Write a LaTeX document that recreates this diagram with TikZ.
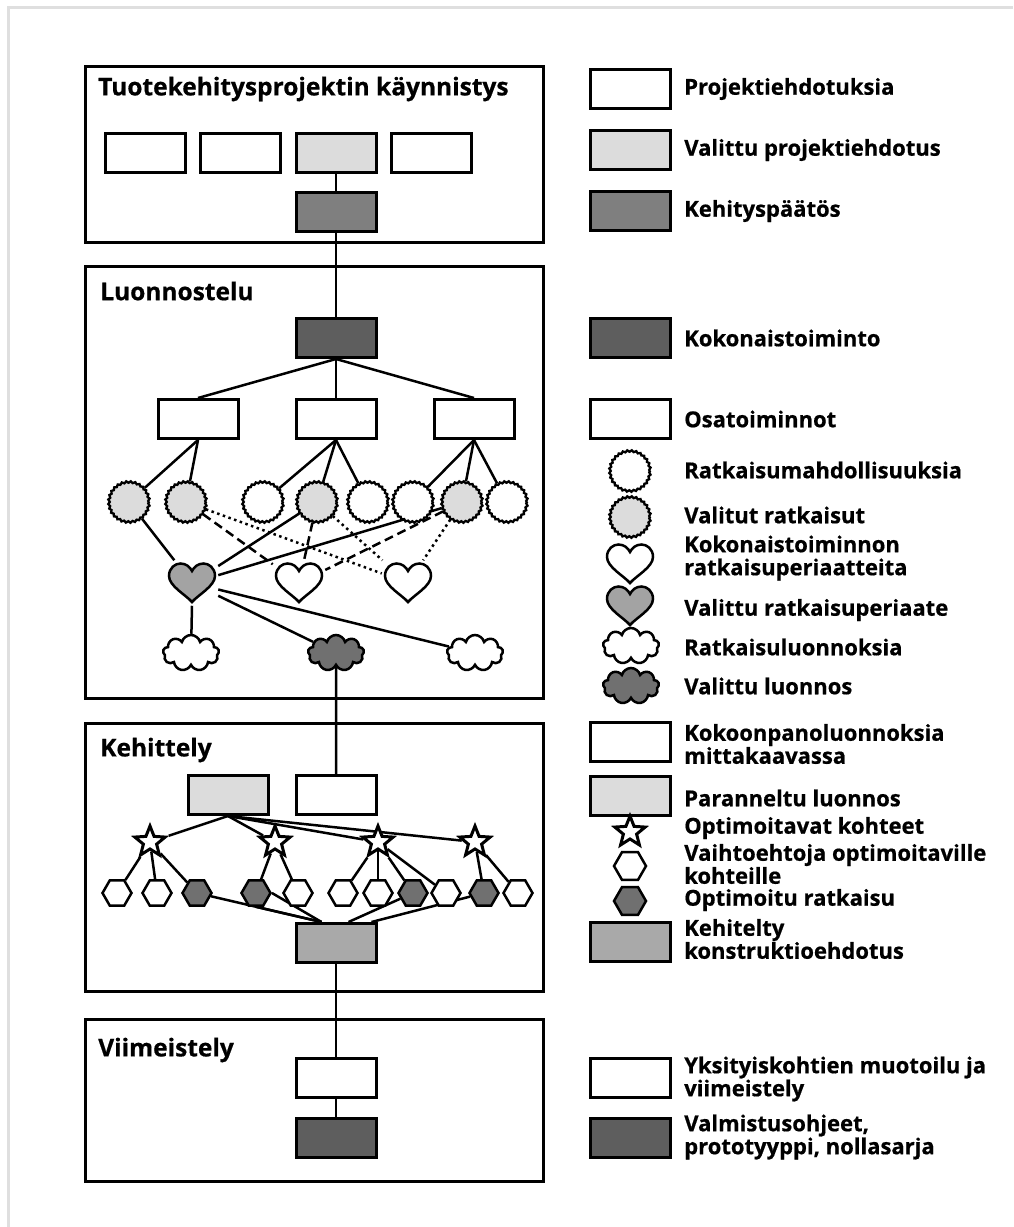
\documentclass[tikz,border=0pt]{standalone}
\usepackage{fontspec}
\setmainfont{Open Sans}[BoldFeatures={FakeBold=0.6}]
\usetikzlibrary{positioning,shapes.geometric,shapes.symbols,decorations.pathmorphing,backgrounds}

\definecolor{paleg}{HTML}{DCDCDC}
\definecolor{midg}{HTML}{A9A9A9}
\definecolor{heartg}{HTML}{A3A3A3}
\definecolor{stoneg}{HTML}{7F7F7F}
\definecolor{darkg}{HTML}{5E5E5E}
\definecolor{shadeg}{HTML}{707070}

\newcommand{\heartpath}{(0pt,-19pt) .. controls (-6pt,-12pt) and (-23pt,-3pt) .. (-23pt,7pt)
  .. controls (-23pt,15pt) and (-17pt,19.5pt) .. (-11.5pt,19.5pt)
  .. controls (-6pt,19.5pt) and (-2pt,16pt) .. (0pt,12pt)
  .. controls (2pt,16pt) and (6pt,19.5pt) .. (11.5pt,19.5pt)
  .. controls (17pt,19.5pt) and (23pt,15pt) .. (23pt,7pt)
  .. controls (23pt,-3pt) and (6pt,-12pt) .. (0pt,-19pt) -- cycle}

\begin{document}
\begin{tikzpicture}[
    x=1pt, y=-1pt,
    font=\bfseries\fontsize{22}{23}\selectfont,
    line width=2.5pt,
    phase/.style={rectangle, draw, line width=3pt, anchor=north west, minimum width=458pt, inner sep=0pt},
    phasetitle/.style={anchor=west, inner sep=0pt, font=\bfseries\fontsize{24.5}{26}\selectfont},
    box/.style={rectangle, draw, line width=3pt, fill=#1, minimum width=80pt, minimum height=39pt, inner sep=0pt},
    box/.default=white,
    sol/.style={circle, draw, line width=2.3pt, fill=#1, minimum size=40pt, inner sep=0pt, decorate, decoration={zigzag, segment length=4.4pt, amplitude=0.8pt}},
    sol/.default=white,
    heart/.style={rectangle, minimum width=50pt, minimum height=43pt, inner sep=0pt,
        path picture={\draw[line width=2.5pt, fill=#1, shift={(path picture bounding box.center)}] \heartpath;}},
    heart/.default=white,
    sketch/.style={cloud, cloud puffs=9, aspect=1.6, draw, line width=2.5pt, fill=#1, minimum width=56pt, minimum height=36pt, inner sep=0pt},
    sketch/.default=white,
    target/.style={star, star points=5, star point ratio=2.3, draw, line width=3pt, fill=white, minimum size=32pt, inner sep=0pt},
    variant/.style={regular polygon, regular polygon sides=6, draw, line width=2.5pt, fill=#1, minimum size=29pt, inner sep=0pt},
    variant/.default=white,
    legendtext/.style={anchor=west, align=left, inner sep=0pt},
    link/.style={draw=black, line width=2.5pt},
    dashlink/.style={dash pattern=on 9pt off 5pt},
    dotlink/.style={dash pattern=on 2.5pt off 3.5pt}
]
    \useasboundingbox (0,0) rectangle (1013,1227);
    \draw[gray!25, line width=3pt] (8,1227) -- (8,7) -- (1013,7);

    % Phases
    \node (ph1) [phase, minimum height=176pt] at (84,65) {};
    \node (ph2) [phase, minimum height=432pt] at (84,265) {};
    \node (ph3) [phase, minimum height=268pt] at (84,722) {};
    \node (ph4) [phase, minimum height=162pt] at (84,1018) {};
    \node (ti1) [phasetitle] at (97,89) {Tuotekehitysprojektin käynnistys};
    \node (ti2) [phasetitle] at (99,291) {Luonnostelu};
    \node (ti3) [phasetitle] at (99,750) {Kehittely};
    \node (ti4) [phasetitle] at (97,1050) {Viimeistely};

    % Start
    \node (p1) [box] at (145,153) {};
    \node (p2) [box] at (240,153) {};
    \node (p3) [box=paleg] at (336,153) {};
    \node (p4) [box] at (431,153) {};
    \node (kp) [box=stoneg] at (336,212) {};

    % Sketching
    \node (koko) [box=darkg] at (336,338) {};
    \node (o1) [box] at (198,419) {};
    \node (o2) [box] at (336,419) {};
    \node (o3) [box] at (474,419) {};

    \node (c1) [sol=paleg] at (129,502) {};
    \node (c2) [sol=paleg] at (186,502) {};
    \node (c3) [sol] at (263,502) {};
    \node (c4) [sol=paleg] at (317,502) {};
    \node (c5) [sol] at (368,502) {};
    \node (c6) [sol] at (413,502) {};
    \node (c7) [sol=paleg] at (462,502) {};
    \node (c8) [sol] at (507,502) {};

    \node (h1) [heart=heartg] at (192,583) {};
    \node (h2) [heart] at (299,583) {};
    \node (h3) [heart] at (408,583) {};

    \node (cl1) [sketch] at (191,653) {};
    \node (cl2) [sketch=shadeg] at (336,653) {};
    \node (cl3) [sketch] at (475,653) {};

    % Development
    \node (r1) [box=paleg] at (228,795) {};
    \node (m1) [box] at (336,795) {};

    \node (s1) [target] at (150,842) {};
    \node (s2) [target] at (275,842) {};
    \node (s3) [target] at (378,842) {};
    \node (s4) [target] at (475,842) {};

    \node (x1) [variant] at (117,893) {};
    \node (x2) [variant] at (157,893) {};
    \node (x3) [variant=shadeg] at (197,893) {};
    \node (x4) [variant=shadeg] at (256,893) {};
    \node (x5) [variant] at (298,893) {};
    \node (x6) [variant] at (343,893) {};
    \node (x7) [variant] at (378,893) {};
    \node (x8) [variant=shadeg] at (413,893) {};
    \node (x9) [variant] at (446,893) {};
    \node (x10) [variant=shadeg] at (484,893) {};
    \node (x11) [variant] at (518,893) {};

    \node (kt) [box=midg] at (336,943) {};

    % Finishing
    \node (v1) [box] at (336,1078) {};
    \node (v2) [box=darkg] at (336,1138) {};

    % Legend
    \node (l1) [box] at (630,89) {};
    \node (l2) [box=paleg] at (630,150) {};
    \node (l3) [box=stoneg] at (630,211) {};
    \node (l4) [box=darkg] at (630,338) {};
    \node (l5) [box] at (630,419) {};
    \node (l6) [sol] at (630,471) {};
    \node (l7) [sol=paleg] at (630,517) {};
    \node (l8) [heart] at (630,564) {};
    \node (l9) [heart=heartg] at (630,606) {};
    \node (l10) [sketch] at (631,646) {};
    \node (l11) [sketch=shadeg] at (631,686) {};
    \node (l12) [box] at (630,742) {};
    \node (l13) [box=paleg] at (630,796) {};
    \node (l14) [target] at (630,832) {};
    \node (l15) [variant, minimum size=32pt] at (630,866) {};
    \node (l16) [variant=shadeg, minimum size=32pt] at (630,901) {};
    \node (l17) [box=midg] at (630,942) {};
    \node (l18) [box] at (630,1078) {};
    \node (l19) [box=darkg] at (630,1138) {};

    \node (t1) [legendtext] at (683,89) {Projektiehdotuksia};
    \node (t2) [legendtext] at (683,150) {Valittu projektiehdotus};
    \node (t3) [legendtext] at (683,211) {Kehityspäätös};
    \node (t4) [legendtext] at (683,338) {Kokonaistoiminto};
    \node (t5) [legendtext] at (683,419) {Osatoiminnot};
    \node (t6) [legendtext] at (683,470) {Ratkaisumahdollisuuksia};
    \node (t7) [legendtext] at (683,515) {Valitut ratkaisut};
    \node (t8) [legendtext] at (683,558) {Kokonaistoiminnon\\ratkaisuperiaatteita};
    \node (t9) [legendtext] at (683,610) {Valittu ratkaisuperiaate};
    \node (t10) [legendtext] at (683,647) {Ratkaisuluonnoksia};
    \node (t11) [legendtext] at (683,686) {Valittu luonnos};
    \node (t12) [legendtext] at (683,744) {Kokoonpanoluonnoksia\\mittakaavassa};
    \node (t13) [legendtext] at (683,798) {Paranneltu luonnos};
    \node (t14) [legendtext] at (683,828) {Optimoitavat kohteet};
    \node (t15) [legendtext] at (683,864) {Vaihtoehtoja optimoitaville\\kohteille};
    \node (t16) [legendtext] at (683,900) {Optimoitu ratkaisu};
    \node (t17) [legendtext] at (683,939) {Kehitelty\\konstruktioehdotus};
    \node (t18) [legendtext] at (683,1079) {Yksityiskohtien muotoilu ja\\viimeistely};
    \node (t19) [legendtext] at (683,1137) {Valmistusohjeet,\\prototyyppi, nollasarja};

    % Connectors
    \begin{scope}[on background layer]
    \begin{scope}[every path/.style={link}]
        \draw (p3) -- (kp);
        \draw (kp) -- (koko);
        \foreach \o in {o1,o2,o3} \draw (koko.south) -- (\o.north);
        \foreach \c in {c1,c2} \draw (o1.south) -- (\c);
        \foreach \c in {c3,c4,c5} \draw (o2.south) -- (\c);
        \foreach \c in {c6,c7,c8} \draw (o3.south) -- (\c);

        \foreach \c in {c1,c4,c7} \draw (\c) -- (h1);
        \foreach \c in {c2,c4,c7} \draw[dashlink] (\c) -- (h2);
        \foreach \c in {c2,c4,c7} \draw[dotlink] (\c) -- (h3);

        \draw (h1.south) -- (cl1);
        \draw (h1) -- (cl2);
        \draw (h1) -- (cl3);
        \draw (cl2) -- (m1);

        \foreach \s in {s1,s2,s3,s4} \draw (r1.south) -- (\s);
        \foreach \x in {x1,x2,x3} \draw (s1) -- (\x);
        \foreach \x in {x4,x5} \draw (s2) -- (\x);
        \foreach \x in {x6,x7,x8,x9} \draw (s3) -- (\x);
        \foreach \x in {x10,x11} \draw (s4) -- (\x);

        \draw (x3) -- ([xshift=27pt]kt.north west);
        \draw (x4.east) -- ([xshift=27pt]kt.north west);
        \draw (x4.south) -- ([xshift=27pt]kt.north west);
        \draw (x8) -- ([xshift=54pt]kt.north west);
        \draw (x10) -- ([xshift=-6pt]kt.north east);

        \draw (kt) -- (v1);
        \draw (v1) -- (v2);
    \end{scope}
    \end{scope}

\end{tikzpicture}
\end{document}
